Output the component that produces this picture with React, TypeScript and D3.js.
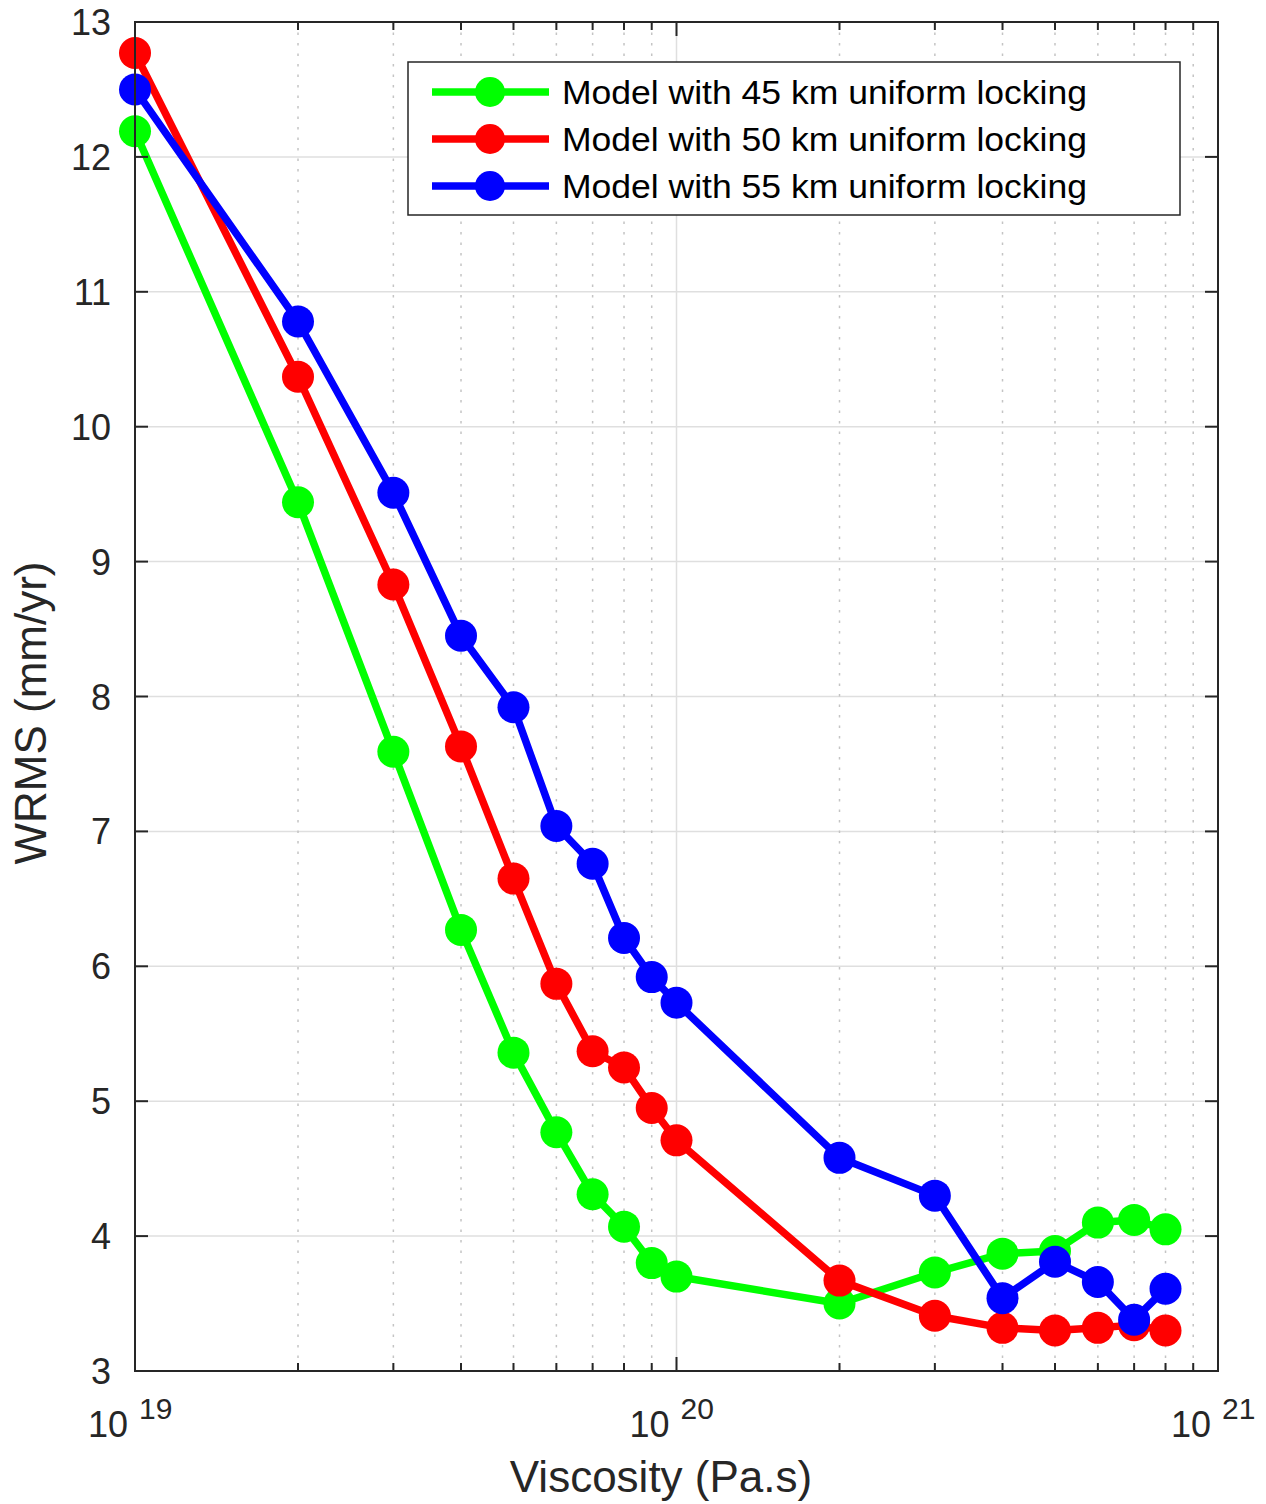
import React from "react";
import * as d3 from "d3";

const viscosity = [1e19, 2e19, 3e19, 4e19, 5e19, 6e19, 7e19, 8e19, 9e19, 1e20, 2e20, 3e20, 4e20, 5e20, 6e20, 7e20, 8e20];
const wrms45 = [12.19, 9.44, 7.59, 6.27, 5.36, 4.77, 4.31, 4.07, 3.8, 3.7, 3.5, 3.73, 3.87, 3.89, 4.1, 4.12, 4.05];
const wrms50 = [12.77, 10.37, 8.83, 7.63, 6.65, 5.87, 5.37, 5.25, 4.95, 4.71, 3.67, 3.41, 3.32, 3.3, 3.32, 3.34, 3.3];
const wrms55 = [12.5, 10.78, 9.51, 8.45, 7.92, 7.04, 6.76, 6.21, 5.92, 5.73, 4.58, 4.3, 3.54, 3.81, 3.66, 3.38, 3.61];
const seriesNames = ["Model with 45 km uniform locking", "Model with 50 km uniform locking", "Model with 55 km uniform locking"];
const seriesColors = ["#00ff00", "#ff0000", "#0000ff"];
const yTicks = [3, 4, 5, 6, 7, 8, 9, 10, 11, 12, 13];
const xMajor = [19, 20, 21];

export default function App() {
  const W = 1266, H = 1504;
  const L = 135, R = 1218, T = 22, B = 1371;
  const x = d3.scaleLog().domain([1e19, 1e21]).range([L, R]);
  const y = d3.scaleLinear().domain([3, 13]).range([B, T]);
  const series = [wrms45, wrms50, wrms55];
  const minor: number[] = [];
  for (const e of [19, 20]) for (let m = 2; m <= 9; m++) minor.push(m * Math.pow(10, e));
  const line = d3.line<number>().x((_, i) => x(viscosity[i])).y((d) => y(d));
  const font = "'Liberation Sans', Arial, Helvetica, sans-serif";
  const txt = "#262626";
  const axisC = "#262626";
  const gridC = "#dfdfdf";

  return (
    <svg width={W} height={H} style={{ position: "absolute", left: 0, top: 0 }} fontFamily={font}>
      <rect x={0} y={0} width={W} height={H} fill="#fff" />
      {/* grid */}
      {yTicks.map((t) => (
        <line key={"gy" + t} x1={L} x2={R} y1={y(t)} y2={y(t)} stroke={gridC} strokeWidth={1.5} />
      ))}
      {minor.map((v) => (
        <line key={"gm" + v} x1={x(v)} x2={x(v)} y1={T} y2={B} stroke="#c4c4c4" strokeWidth={1.5} strokeDasharray="2.5,8" />
      ))}
      <line x1={x(1e20)} x2={x(1e20)} y1={T} y2={B} stroke={gridC} strokeWidth={1.5} />
      {/* series */}
      {series.map((s, k) => (
        <g key={"s" + k}>
          <path d={line(s) || ""} fill="none" stroke={seriesColors[k]} strokeWidth={7.5} strokeLinejoin="round" />
          {s.map((v, i) => (
            <circle key={i} cx={x(viscosity[i])} cy={y(v)} r={16} fill={seriesColors[k]} />
          ))}
        </g>
      ))}
      {/* axes box */}
      <rect x={L} y={T} width={R - L} height={B - T} fill="none" stroke={axisC} strokeWidth={2} />
      {/* y ticks */}
      {yTicks.map((t) => (
        <g key={"yt" + t}>
          <line x1={L} x2={L + 13} y1={y(t)} y2={y(t)} stroke={axisC} strokeWidth={2} />
          <line x1={R} x2={R - 13} y1={y(t)} y2={y(t)} stroke={axisC} strokeWidth={2} />
          <text x={111} y={y(t) + 13} textAnchor="end" fontSize={36} fill={txt}>{t}</text>
        </g>
      ))}
      {/* x ticks */}
      {minor.map((v) => (
        <g key={"xt" + v}>
          <line x1={x(v)} x2={x(v)} y1={B} y2={B - 8} stroke={axisC} strokeWidth={2} />
          <line x1={x(v)} x2={x(v)} y1={T} y2={T + 8} stroke={axisC} strokeWidth={2} />
        </g>
      ))}
      {xMajor.map((e) => (
        <g key={"xm" + e}>
          <line x1={x(Math.pow(10, e))} x2={x(Math.pow(10, e))} y1={B} y2={B - 14} stroke={axisC} strokeWidth={2} />
          <line x1={x(Math.pow(10, e))} x2={x(Math.pow(10, e))} y1={T} y2={T + 14} stroke={axisC} strokeWidth={2} />
          <text x={x(Math.pow(10, e)) - 7} y={1437} textAnchor="end" fontSize={36} fill={txt}>10</text>
          <text x={x(Math.pow(10, e)) + 4} y={1419} textAnchor="start" fontSize={30} fill={txt}>{e}</text>
        </g>
      ))}
      {/* axis labels */}
      <text x={661} y={1492} textAnchor="middle" fontSize={44} fill={txt}>Viscosity (Pa.s)</text>
      <text transform={`translate(46, 713) rotate(-90)`} textAnchor="middle" fontSize={44} fill={txt}>WRMS (mm/yr)</text>
      {/* legend */}
      <rect x={408} y={62} width={772} height={153} fill="#fff" stroke={axisC} strokeWidth={1.5} />
      {seriesNames.map((n, k) => {
        const ly = 92 + k * 47;
        return (
          <g key={"lg" + k}>
            <line x1={432} x2={549} y1={ly} y2={ly} stroke={seriesColors[k]} strokeWidth={7.5} />
            <circle cx={490} cy={ly} r={15} fill={seriesColors[k]} />
            <text x={562} y={ly + 12} fontSize={34} fill="#000" textLength={525} lengthAdjust="spacingAndGlyphs">{n}</text>
          </g>
        );
      })}
    </svg>
  );
}
